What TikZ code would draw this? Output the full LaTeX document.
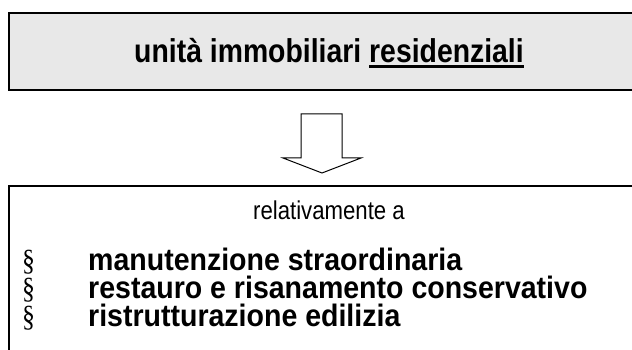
\documentclass[tikz,border=0pt]{standalone}
\usepackage{fontspec}
\usepackage{graphicx}
\setmainfont{Liberation Sans}
\newfontfamily\serifsym{Liberation Serif}
\newcommand\thickul[1]{\setbox0\hbox{#1}\rlap{\rule[-5pt]{\wd0}{3pt}}\box0}
\newcommand\narrow[1]{\scalebox{0.86}[1]{#1}}
\newcommand\narrowb[1]{\scalebox{0.92}[1]{#1}}
\tikzset{
  boxstyle/.style={draw=black, line width=2pt},
  bold/.style={font=\fontsize{31}{36}\selectfont\bfseries, anchor=base west, inner sep=0pt, text height=21pt, text depth=0pt},
  plain/.style={font=\fontsize{25.8}{30}\selectfont, anchor=base, inner sep=0pt},
  sect/.style={font=\fontsize{30}{34}\serifsym, anchor=base west, inner sep=0pt, text height=20pt, text depth=3pt},
}
\begin{document}
\begin{tikzpicture}[x=1pt,y=-1pt]
\useasboundingbox (0,0) rectangle (632,350);
\clip (0,0) rectangle (632,350);
% top box
\draw[boxstyle, fill=black!9] (9,13) rectangle (660,90);
\node[font=\fontsize{33}{38}\selectfont\bfseries, anchor=base, inner sep=0pt] (title) at (329,63) {\narrow{unità immobiliari \thickul{residenziali}}};
% arrow
\draw[line width=1pt, line join=miter] (301,114) -- (342,114) -- (342,158) -- (361,158) -- (322,173) -- (283,158) -- (301,158) -- cycle;
% bottom box
\draw[boxstyle, fill=white] (9,186) rectangle (660,380);
\node[plain] (rel) at (329,219) {\narrow{relativamente a}};
\node[sect] (s1) at (22,270) {\narrow{§}};
\node[sect] (s2) at (22,298) {\narrow{§}};
\node[sect] (s3) at (22,326) {\narrow{§}};
\node[bold] (t1) at (88,270) {\narrowb{manutenzione straordinaria}};
\node[bold] (t2) at (88,298) {\narrowb{restauro e risanamento conservativo}};
\node[bold] (t3) at (88,326) {\narrowb{ristrutturazione edilizia}};
\end{tikzpicture}
\end{document}
